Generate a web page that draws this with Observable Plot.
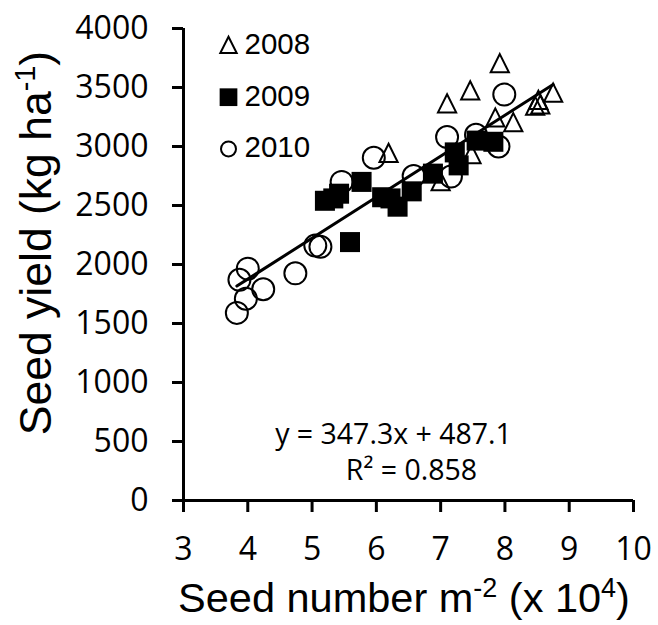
<!DOCTYPE html>
<html><head><meta charset="utf-8">
<script src="https://cdn.jsdelivr.net/npm/d3@7"></script>
<script src="https://cdn.jsdelivr.net/npm/@observablehq/plot@0.6"></script>
<style>body{margin:0;background:#fff}</style>
</head><body><div id="chart"></div>
<script>
// ---- data ----
const years = ["2008", "2009", "2010"];
const x2008 = [6.19, 7.00, 7.10, 7.46, 7.48, 7.92, 7.85, 8.13, 8.47, 8.52, 8.55, 8.75];
const y2008 = [2940, 2700, 3360, 3470, 2930, 3700, 3240, 3200, 3340, 3390, 3350, 3450];
const x2009 = [5.20, 5.33, 5.42, 5.59, 5.77, 6.09, 6.22, 6.33, 6.55, 6.88, 7.22, 7.28, 7.56, 7.82];
const y2009 = [2540, 2560, 2600, 2190, 2700, 2570, 2560, 2490, 2620, 2770, 2950, 2840, 3050, 3040];
const x2010 = [3.83, 3.87, 3.97, 4.00, 4.24, 4.74, 5.05, 5.13, 5.46, 5.96, 6.58, 7.10, 7.16, 7.55, 7.90, 7.99];
const y2010 = [1590, 1870, 1710, 1965, 1790, 1925, 2160, 2150, 2700, 2905, 2750, 3080, 2745, 3100, 3000, 3440];
const slope = 347.3, intercept = 487.1, r2 = "0.858";
const xTicks = [3, 4, 5, 6, 7, 8, 9, 10];
const yTicks = [0, 500, 1000, 1500, 2000, 2500, 3000, 3500, 4000];
const xTitleParts = [{t: "Seed number m"}, {t: "-2", sup: true}, {t: " (x 10"}, {t: "4", sup: true}, {t: ")"}];
const yTitleParts = [{t: "Seed yield (kg ha"}, {t: "-1", sup: true}, {t: ")"}];

const toRows = (xs, ys) => xs.map((x, i) => ({x, y: ys[i]}));
const d2008 = toRows(x2008, y2008), d2009 = toRows(x2009, y2009), d2010 = toRows(x2010, y2010);
const allX = [...x2008, ...x2009, ...x2010];
const fitLine = d3.extent(allX).map(x => ({x, y: slope * x + intercept}));

const tallTriangle = {
  draw(ctx, size) {
    const r = Math.sqrt(size / Math.PI);
    ctx.moveTo(0, -1.4 * r);
    ctx.lineTo(1.3 * r, 1.2 * r);
    ctx.lineTo(-1.3 * r, 1.2 * r);
    ctx.closePath();
  }
};

const tickFont = "'Open Sans', Lato, sans-serif";
const arial = "'Liberation Sans', Arial, sans-serif";
const legendSymbols = [
  {symbol: tallTriangle, r: 6.3, fill: "none", stroke: "black"},
  {symbol: "square", r: 10, fill: "black", stroke: "none"},
  {symbol: "circle", r: 7.5, fill: "none", stroke: "black"}
];

const legendMarks = years.flatMap((yr, i) => [
  Plot.dot([yr], {frameAnchor: "top-left", dx: 45, dy: 17 + i * 51.7, symbol: legendSymbols[i].symbol,
    r: legendSymbols[i].r, fill: legendSymbols[i].fill, stroke: legendSymbols[i].stroke, strokeWidth: 2}),
  Plot.text([yr], {frameAnchor: "top-left", dx: 61, dy: 16 + i * 51.7, text: d => d, textAnchor: "start",
    lineAnchor: "middle", fontSize: 29.5, fontFamily: arial, fill: "black"})
]);

const chart = Plot.plot({
  width: 658, height: 625,
  marginLeft: 183, marginRight: 25, marginTop: 28, marginBottom: 125,
  x: {domain: [3, 10], label: null},
  y: {domain: [0, 4000], label: null},
  marks: [
    Plot.axisX({ticks: xTicks, tickSize: 12, tickPadding: 25, strokeWidth: 3, fontSize: 32,
      fontFamily: tickFont, tickFormat: "d", label: null}),
    Plot.axisY({ticks: yTicks, tickSize: 11, tickPadding: 24, strokeWidth: 3, fontSize: 32,
      fontFamily: tickFont, tickFormat: "d", label: null}),
    Plot.ruleY([0], {strokeWidth: 3}),
    Plot.ruleX([3], {strokeWidth: 3}),
    Plot.dot(d2010, {x: "x", y: "y", symbol: "circle", r: 11, fill: "none", stroke: "black", strokeWidth: 2}),
    Plot.dot(d2008, {x: "x", y: "y", symbol: tallTriangle, r: 7, fill: "none", stroke: "black", strokeWidth: 2}),
    Plot.line(fitLine, {x: "x", y: "y", stroke: "black", strokeWidth: 3}),
    Plot.dot(d2009, {x: "x", y: "y", symbol: "square", r: 11.3, fill: "black", stroke: "none"}),
    ...legendMarks,
    Plot.text([`y = ${slope}x + ${intercept}`], {frameAnchor: "top-left", dx: 210, dy: 395, text: d => d,
      textAnchor: "middle", fontSize: 28.5, fontFamily: tickFont, fill: "black"}),
    Plot.text([`R² = ${r2}`], {frameAnchor: "top-left", dx: 228, dy: 431, text: d => d,
      textAnchor: "middle", fontSize: 28.5, fontFamily: tickFont, fill: "black"})
  ]
});

const svg = d3.select(chart);
function addTitle(parts, x, y, rotate, size) {
  const t = svg.append("text")
    .attr("transform", `translate(${x},${y})` + (rotate ? " rotate(-90)" : ""))
    .attr("text-anchor", "middle")
    .attr("font-family", arial)
    .attr("font-size", size)
    .attr("fill", "black");
  let shifted = false;
  const sh = Math.round(size * 0.37);
  parts.forEach(p => {
    const s = t.append("tspan").text(p.t);
    if (p.sup) { s.attr("font-size", size * 0.65).attr("dy", -sh); shifted = true; }
    else if (shifted) { s.attr("dy", sh); shifted = false; }
  });
}
addTitle(xTitleParts, 404, 612, false, 41.5);
addTitle(yTitleParts, 51, 243, true, 44.5);

document.getElementById("chart").appendChild(chart);
</script></body></html>
